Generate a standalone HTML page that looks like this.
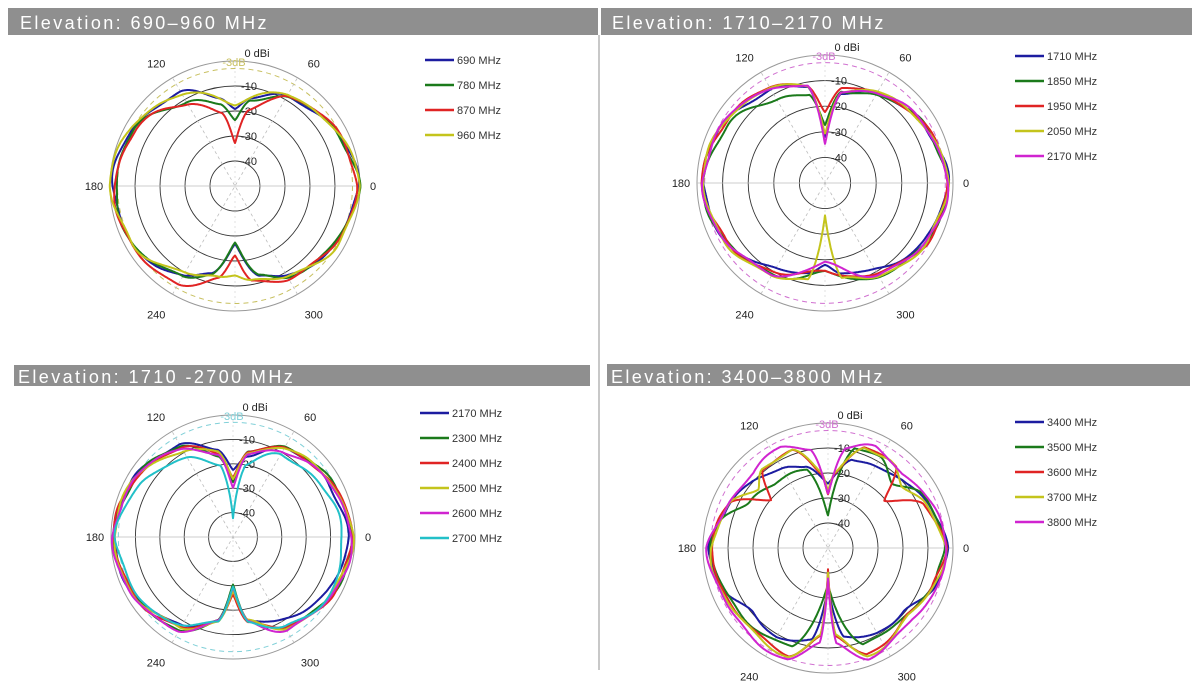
<!DOCTYPE html>
<html><head><meta charset="utf-8"><style>
html,body{margin:0;padding:0;background:#fff;width:1200px;height:693px;overflow:hidden}
svg{display:block}
text{font-family:"Liberation Sans",sans-serif}
</style></head><body>
<svg id="s" width="1200" height="693" xmlns="http://www.w3.org/2000/svg">
<rect width="1200" height="693" fill="#fff"/>
<rect x="8" y="8" width="590" height="27" fill="#8f8f8f"/>
<rect x="601" y="8" width="591" height="27" fill="#8f8f8f"/>
<rect x="14" y="365" width="576" height="21" fill="#8f8f8f"/>
<rect x="607" y="364" width="583" height="22" fill="#8f8f8f"/>
<line x1="599" y1="35" x2="599" y2="670" stroke="#c8c8c8" stroke-width="2"/>
<text x="20" y="29" fill="#fff" font-size="18" letter-spacing="2.4">Elevation: 690–960 MHz</text>
<text x="612" y="29" fill="#fff" font-size="18" letter-spacing="2.4">Elevation: 1710–2170 MHz</text>
<text x="18" y="383" fill="#fff" font-size="18" letter-spacing="2.4">Elevation: 1710 -2700 MHz</text>
<text x="611" y="383" fill="#fff" font-size="18" letter-spacing="2.4">Elevation: 3400–3800 MHz</text>
<g id="g"></g>
</svg>
<script>
const C={b:"#1c1ca0",g:"#1b7a1b",r:"#e02424",y:"#c4c41c",m:"#d024d0",c:"#22c0c8"};
const panels=[
 {cx:235,cy:186,R:125,dash:"#c8c060",lx:425,ly:60,series:[
  ["690 MHz",C.b,[[0,-0.5],[30,-4],[60,-9],[80,-14],[90,-19],[100,-14],[120,-7],[150,-3],[180,-1],[210,-3],[240,-8],[255,-14],[270,-27],[285,-13],[300,-8],[330,-4]]],
  ["780 MHz",C.g,[[0,-0.5],[30,-4],[60,-9],[80,-15],[90,-24],[100,-17],[120,-11],[150,-4],[180,-2],[210,-3],[240,-8],[255,-14],[270,-27],[285,-13],[300,-8],[330,-4]]],
  ["870 MHz",C.r,[[0,-1],[30,-4],[60,-8],[80,-20],[90,-33],[100,-20],[120,-12],[150,-4],[180,-2],[210,-2],[240,-5],[260,-12],[270,-22],[280,-12],[300,-7],[330,-4]]],
  ["960 MHz",C.y,[[0,0],[30,-4],[60,-8],[90,-17],[120,-8],[150,-2],[180,0],[210,-3],[240,-10],[260,-13],[270,-15],[280,-12],[300,-8],[330,-3]]]]},
 {cx:825,cy:183,R:128,dash:"#d070d0",lx:1015,ly:56,series:[
  ["1710 MHz",C.b,[[0,-2],[30,-5],[60,-10],[80,-14],[90,-32],[100,-12],[120,-8],[150,-4],[180,-2],[210,-5],[240,-11],[260,-15],[270,-18],[280,-14],[300,-11],[330,-5]]],
  ["1850 MHz",C.g,[[0,-2],[30,-5],[60,-10],[80,-14],[90,-28],[100,-15],[120,-12],[150,-6],[180,-2],[210,-5],[240,-9],[270,-15],[300,-8],[330,-4]]],
  ["1950 MHz",C.r,[[0,-2],[30,-5],[60,-9],[80,-13],[90,-22],[100,-11],[120,-7],[150,-4],[180,-2],[210,-5],[240,-10],[270,-16],[300,-9],[330,-4]]],
  ["2050 MHz",C.y,[[0,-2],[30,-5],[60,-9],[80,-14],[90,-30],[100,-12],[120,-7],[150,-4],[180,-2],[210,-5],[240,-8],[260,-12],[270,-38],[280,-12],[300,-8],[330,-4]]],
  ["2170 MHz",C.m,[[0,-2],[30,-5],[60,-9],[80,-14],[90,-35],[100,-12],[120,-7],[150,-4],[180,-2],[210,-5],[240,-9],[270,-19],[300,-9],[330,-4]]]]},
 {cx:233,cy:537,R:122,dash:"#80d0d8",lx:420,ly:413,series:[
  ["2170 MHz",C.b,[[0,-3],[30,-5],[60,-8],[80,-16],[90,-23],[100,-14],[120,-6],[150,-3],[180,-1],[210,-3],[240,-8],[260,-16],[270,-28],[280,-15],[300,-11],[330,-5]]],
  ["2300 MHz",C.g,[[0,-1],[30,-4],[60,-7],[80,-15],[90,-28],[100,-16],[120,-7],[150,-3],[180,-1],[210,-3],[240,-6],[260,-15],[270,-30],[280,-16],[300,-7],[330,-3]]],
  ["2400 MHz",C.r,[[0,-1],[30,-4],[60,-8],[80,-15],[90,-25],[100,-15],[120,-8],[150,-3],[180,-1],[210,-3],[240,-7],[260,-15],[270,-27],[280,-15],[300,-7],[330,-3]]],
  ["2500 MHz",C.y,[[0,-1],[30,-4],[60,-8],[80,-15],[90,-26],[100,-15],[120,-9],[150,-3],[180,-1],[210,-3],[240,-7],[260,-15],[270,-28],[280,-15],[300,-7],[330,-3]]],
  ["2600 MHz",C.m,[[0,-1],[30,-5],[60,-9],[80,-16],[90,-30],[100,-16],[120,-8],[150,-3],[180,-1],[210,-2],[240,-6],[260,-15],[270,-29],[280,-15],[300,-6],[330,-3]]],
  ["2700 MHz",C.c,[[0,-5],[30,-8],[60,-11],[80,-20],[90,-42],[100,-20],[120,-13],[150,-6],[180,-2],[210,-4],[240,-8],[260,-15],[270,-30],[280,-15],[300,-7],[330,-4]]]]},
 {cx:828,cy:548,R:125,dash:"#d070d0",lx:1015,ly:422,series:[
  ["3400 MHz",C.b,[[0,-2],[20,-5],[40,-10],[60,-12],[75,-13],[90,-25],[105,-16],[120,-13],[140,-10],[160,-6],[180,-2],[200,-5],[220,-10],[240,-9],[260,-13],[270,-33],[280,-14],[300,-11],[320,-10],[340,-5]]],
  ["3500 MHz",C.g,[[0,-3],[30,-7],[45,-13],[60,-8],[75,-9],[90,-37],[105,-17],[130,-17],[150,-13],[165,-6],[180,-3],[200,-5],[230,-7],[250,-8],[270,-35],[290,-9],[310,-9],[330,-8],[345,-5]]],
  ["3600 MHz",C.r,[[0,-3],[25,-8],[40,-20],[50,-8],[70,-7],[85,-20],[90,-28],[95,-20],[110,-9],[130,-9],[140,-20],[155,-7],[180,-3],[220,-6],[250,-4],[265,-15],[270,-42],[275,-15],[290,-4],[320,-9],[340,-5]]],
  ["3700 MHz",C.y,[[0,-3],[25,-7],[40,-12],[55,-7],[70,-7],[85,-20],[90,-27],[95,-20],[110,-8],[130,-9],[140,-14],[155,-7],[180,-3],[220,-5],[250,-4],[265,-15],[270,-40],[275,-15],[290,-4],[320,-8],[340,-5]]],
  ["3800 MHz",C.m,[[0,-2],[30,-6],[45,-8],[65,-5],[80,-10],[90,-28],[100,-10],[115,-5],[135,-8],[160,-6],[180,-2],[220,-4],[250,-2],[265,-12],[270,-38],[275,-12],[290,-3],[320,-6],[340,-4]]]]}
];
const NS="http://www.w3.org/2000/svg",G=document.getElementById("g");
function el(t,a,txt){const e=document.createElementNS(NS,t);for(const k in a)e.setAttribute(k,a[k]);if(txt!==undefined)e.textContent=txt;G.appendChild(e);return e;}
function interp(pts,a){
 const n=pts.length;
 for(let i=0;i<n;i++){const p=pts[i],q=pts[(i+1)%n];let a0=p[0],a1=q[0];if(a1<=a0)a1+=360;let aa=a;if(aa<a0)aa+=360;
  if(aa>=a0&&aa<=a1){const t=(aa-a0)/(a1-a0);const s=t*t*(3-2*t);const u=(t+s)/2;return p[1]+(q[1]-p[1])*u;}}
 return pts[0][1];}
panels.forEach((P,pi)=>{
 const {cx,cy,R}=P;
 [1,0.8,0.6,0.4,0.2].forEach(f=>el("circle",{cx,cy,r:R*f,fill:"none",stroke:f==1?"#999":"#333","stroke-width":f==1?1:0.9}));
 el("circle",{cx,cy,r:R*0.94,fill:"none",stroke:P.dash,"stroke-width":1,"stroke-dasharray":"5 4"});
 [0,60,120].forEach(a=>{const r=a*Math.PI/180;el("line",{x1:cx-R*Math.cos(r),y1:cy+R*Math.sin(r),x2:cx+R*Math.cos(r),y2:cy-R*Math.sin(r),stroke:"#bbb","stroke-width":0.8,"stroke-dasharray":a?"3 3":"none"});});
 el("line",{x1:cx,y1:cy-R,x2:cx,y2:cy+R,stroke:"#ccc","stroke-width":0.6,"stroke-dasharray":"2 3"});
 const L=(t,x,y,c,sz)=>el("text",{x,y,"font-size":sz||11,fill:c||"#222","text-anchor":"middle"},t);
 L("0",cx+R+13,cy+4);L("180",cx-R-16,cy+4);
 L("60",cx+R*0.55+10,cy-R*0.95,"#222");L("120",cx-R*0.55-10,cy-R*0.95,"#222");
 L("240",cx-R*0.55-10,cy+R*0.98+10);L("300",cx+R*0.55+10,cy+R*0.98+10);
 L("0 dBi",cx+22,cy-R-4);L("-3dB",cx-1,cy-R+5,P.dash);
 L("-10",cx+14,cy-R*0.8+4);L("-20",cx+14,cy-R*0.6+4);L("-30",cx+14,cy-R*0.4+4);L("-40",cx+14,cy-R*0.2+4);
 P.series.forEach((S,si)=>{
  let d="";
  for(let k=0;k<=720;k++){const a=k/2;const t=a*Math.PI/180;
   let db=interp(S[2],a%360)+0.5*Math.sin(t*7+si*2+pi)+0.3*Math.sin(t*13+si);
   db=Math.max(db,-48);const r=R*(1+Math.min(db,0.3)/50);
   d+=(k?"L":"M")+(cx+r*Math.cos(t)).toFixed(1)+","+(cy-r*Math.sin(t)).toFixed(1);}
  el("path",{d,fill:"none",stroke:S[1],"stroke-width":2,"stroke-linejoin":"round"});
  const y=P.ly+si*25;
  el("line",{x1:P.lx,y1:y,x2:P.lx+29,y2:y,stroke:S[1],"stroke-width":2.5});
  el("text",{x:P.lx+32,y:y+4,"font-size":11,fill:"#333"},S[0]);
 });
});
</script>
</body></html>
